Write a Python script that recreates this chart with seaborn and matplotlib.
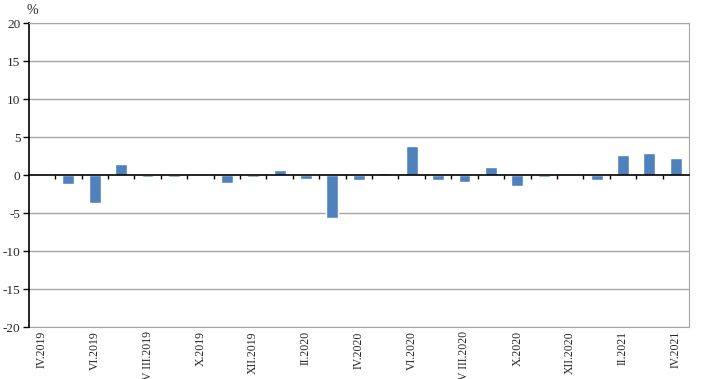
import numpy as np
import pandas as pd
import matplotlib
matplotlib.use("Agg")
import matplotlib.pyplot as plt
from matplotlib.ticker import FixedLocator
import seaborn as sns

# Months IV.2019 .. IV.2021 (monthly change, %)
months = ["IV.2019", "V.2019", "VI.2019", "VII.2019", "VIII.2019", "IX.2019",
          "X.2019", "XI.2019", "XII.2019", "I.2020", "II.2020", "III.2020",
          "IV.2020", "V.2020", "VI.2020", "VII.2020", "VIII.2020", "IX.2020",
          "X.2020", "XI.2020", "XII.2020", "I.2021", "II.2021", "III.2021",
          "IV.2021"]
values = [0.0, -1.2, -3.7, 1.5, -0.2, -0.2, 0.2, -1.0, -0.2, 0.7, -0.5, -5.6,
          -0.7, 0.3, 3.8, -0.7, -0.9, 1.1, -1.4, -0.3, 0.0, -0.7, 2.6, 2.9, 2.2]
# every other month is labelled
shown_labels = ["IV.2019", "VI.2019", "V III.2019", "X.2019", "XII.2019", "II.2020",
                "IV.2020", "VI.2020", "V III.2020", "X.2020", "XII.2020", "II.2021",
                "IV.2021"]
yticks = [-20, -15, -10, -5, 0, 5, 10, 15, 20]

df = pd.DataFrame({"month": months, "value": values})

sns.set_style("white")
plt.rcParams["font.family"] = ["Liberation Serif", "DejaVu Serif"]
plt.rcParams["font.size"] = 9
plt.rcParams["axes.unicode_minus"] = False

fig = plt.figure(figsize=(7.12, 3.79), dpi=100)
ax = fig.add_axes([0.0403, 0.1372, 0.9274, 0.8013])

grid_col = "#a6a6a6"
for y in yticks:
    if y != 0:
        ax.axhline(y, color=grid_col, lw=1, zorder=0)

sns.barplot(data=df, x="month", y="value", color="#4F81BD", saturation=1,
            width=0.45, ax=ax, zorder=2)

n = len(months)
ax.set_xlim(-0.5, n - 0.5)
ax.set_ylim(-20, 20)
ax.set_yticks(yticks)
ax.set_ylabel("")
ax.set_xlabel("")
ax.tick_params(axis="y", direction="out", length=4, width=1, color="black",
               left=True, pad=2, labelsize=9.5)

# zero line as bottom spine with small ticks at category boundaries
ax.spines["bottom"].set_position(("data", 0))
ax.spines["bottom"].set_color("black")
ax.spines["bottom"].set_linewidth(1.2)
ax.spines["bottom"].set_zorder(3)
ax.set_xticks([])
ax.xaxis.set_minor_locator(FixedLocator(np.arange(0.5, n - 1, 1.0)))
ax.tick_params(axis="x", which="minor", direction="out", length=3, width=1,
               color="black", bottom=True)

ax.spines["left"].set_color("black")
ax.spines["left"].set_linewidth(1.2)
ax.spines["top"].set_color(grid_col)
ax.spines["right"].set_color(grid_col)

# labels along the bottom edge
sec = ax.secondary_xaxis(0)
sec.set_xticks(np.arange(0, n, 2), labels=shown_labels, rotation=90)
sec.tick_params(length=0, pad=3, labelsize=8.5)
sec.spines["bottom"].set_color(grid_col)

fig.text(0.046, 0.972, "%", ha="center", va="center", fontsize=10)

fig.savefig("out.png", dpi=100)
